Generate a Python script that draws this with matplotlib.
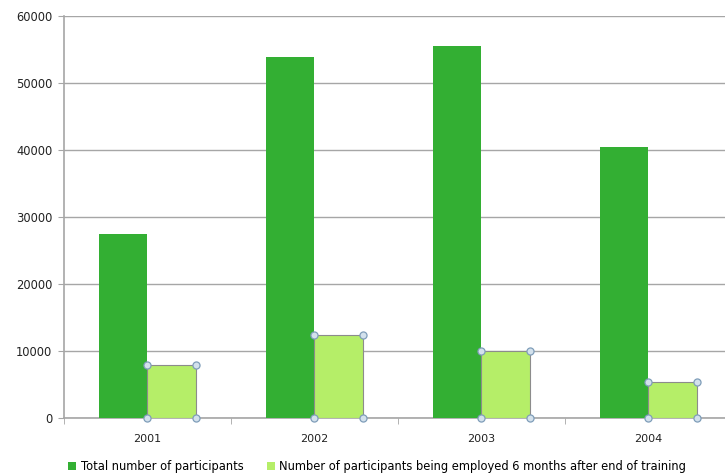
import numpy as np
import matplotlib
matplotlib.use("Agg")
import matplotlib.pyplot as plt
from matplotlib.patches import Patch

years = ["2001", "2002", "2003", "2004"]
total = [27400, 53900, 55450, 40400]
employed = [7870, 12390, 9910, 5280]
yticks = [0, 10000, 20000, 30000, 40000, 50000, 60000]
labels = ["Total number of participants",
          "Number of participants being employed 6 months after end of training"]

DARK = "#33AF33"
LIGHT = "#B5EE68"
GRID = "#A6A6A6"

fig = plt.figure(figsize=(7.25, 4.75), dpi=100)
# plot area runs past the right edge of the picture, as in the reference
ax = fig.add_axes([63.5 / 725, 57.3 / 475, 668.5 / 725, 402 / 475])

x = np.arange(len(years))
w = 0.29
ax.bar(x - w / 2, total, w, color=DARK, zorder=3)
ax.bar(x + w / 2, employed, w, color=LIGHT, edgecolor="#8C8C8C", linewidth=0.8, zorder=3)

# selection handles on the light series
hx = np.concatenate([x, x + w, x, x + w])
hy = np.concatenate([employed, employed, np.zeros(4), np.zeros(4)])
ax.scatter(hx, hy, s=26, facecolor="#D3E1EC", edgecolor="#7F9DB9", linewidth=0.9,
           zorder=5, clip_on=False)

ax.set_xlim(-0.5, 3.5)
ax.set_ylim(0, 60000)
ax.set_yticks(yticks)
ax.set_yticklabels([str(v) for v in yticks])
ax.yaxis.grid(True, color=GRID, linewidth=1.0, zorder=0)
ax.set_axisbelow(True)

ax.set_xticks(x)
ax.set_xticklabels(years)
ax.set_xticks([-0.5, 0.5, 1.5, 2.5, 3.5], minor=True)
ax.tick_params(axis="x", which="major", length=0, pad=12, labelsize=8, labelcolor="#222222")
ax.tick_params(axis="x", which="minor", length=4, color=GRID, direction="out")
ax.tick_params(axis="y", length=4, color=GRID, labelsize=8.3, labelcolor="#222222", pad=4)

for s in ["top", "right"]:
    ax.spines[s].set_visible(False)
for s in ["left", "bottom"]:
    ax.spines[s].set_color(GRID)
    ax.spines[s].set_linewidth(1.2)

handles = [Patch(facecolor=DARK), Patch(facecolor=LIGHT)]
fig.legend(handles, labels, loc="lower left", bbox_to_anchor=(60 / 725, -0.012), ncol=2,
           frameon=False, fontsize=8.3, handlelength=0.7, handleheight=0.7,
           handletextpad=0.4, columnspacing=2.0, borderaxespad=0.3)

fig.savefig("out.png", dpi=100)
